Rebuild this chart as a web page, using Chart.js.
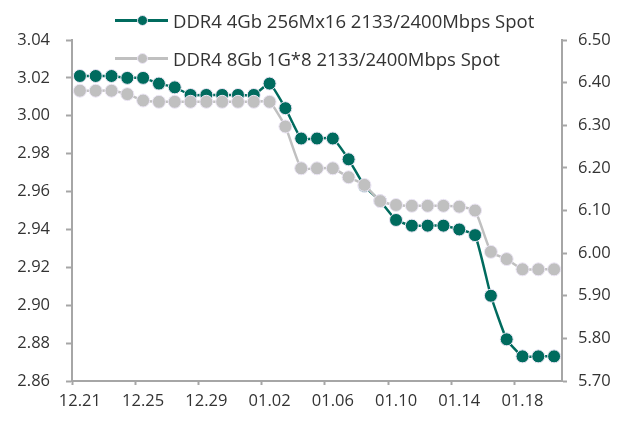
<!DOCTYPE html>
<html>
<head>
<meta charset="utf-8">
<script src="https://cdn.jsdelivr.net/npm/chart.js@4.4.1/dist/chart.umd.min.js"></script>
<style>
  body { margin: 0; background: #fff; }
  .wrap { position: relative; width: 627px; height: 422px; }
  .legend { position: absolute; left: 115px; top: 0; font-family: "Open Sans", sans-serif; font-size: 18.5px; color: #333; }
  .legend-item { position: absolute; left: 0; height: 20px; white-space: nowrap; display: flex; align-items: center; }
  .legend-mark { position: relative; width: 53px; height: 20px; margin-right: 5px; }
  .legend-mark .ln { position: absolute; left: 0; right: 0; top: 9px; height: 2.5px; }
  .legend-mark .dot { position: absolute; left: 22px; top: 5px; width: 9px; height: 9px; border-radius: 50%; border: 1px solid #ece6f5; }
</style>
</head>
<body>
<div class="wrap">
  <canvas id="lineChart"></canvas>
  <div class="legend" id="legend"></div>
</div>
<script>
const categories = [
  '12.21', '12.22', '12.23', '12.24', '12.25', '12.26', '12.27', '12.28', '12.29', '12.30', '12.31',
  '01.01', '01.02', '01.03', '01.04', '01.05', '01.06', '01.07', '01.08', '01.09', '01.10',
  '01.11', '01.12', '01.13', '01.14', '01.15', '01.16', '01.17', '01.18', '01.19', '01.20'
];
const ddr4_4gb = [
  3.021, 3.021, 3.021, 3.020, 3.020, 3.017, 3.015, 3.011, 3.011, 3.011, 3.011,
  3.011, 3.017, 3.004, 2.988, 2.988, 2.988, 2.977, 2.963, 2.955, 2.945,
  2.942, 2.942, 2.942, 2.940, 2.937, 2.905, 2.882, 2.873, 2.873, 2.873
];
const ddr4_8gb = [
  6.381, 6.381, 6.381, 6.373, 6.358, 6.355, 6.355, 6.355, 6.355, 6.355, 6.355,
  6.355, 6.355, 6.297, 6.199, 6.199, 6.199, 6.178, 6.160, 6.122, 6.113,
  6.111, 6.111, 6.111, 6.109, 6.100, 6.003, 5.986, 5.962, 5.962, 5.962
];
const seriesNames = [
  'DDR4 4Gb 256Mx16 2133/2400Mbps Spot',
  'DDR4 8Gb 1G*8 2133/2400Mbps Spot'
];
const leftTicks = [2.86, 3.04, 0.02];
const rightTicks = [5.70, 6.50, 0.10];

const green = '#006b5e';
const grey = '#c0c0c0';
const axisGrey = '#a6a6a6';
const tickFont = { family: 'Open Sans', size: 16.5 };

function buildLegend() {
  const legend = document.getElementById('legend');
  const colors = [green, grey];
  const tops = [10, 48];
  seriesNames.forEach(function (name, i) {
    const item = document.createElement('div');
    item.className = 'legend-item';
    item.style.top = tops[i] + 'px';
    item.innerHTML = '<span class="legend-mark"><span class="ln" style="background:' + colors[i] + '"></span>' +
      '<span class="dot" style="background:' + colors[i] + '"></span></span><span>' + name + '</span>';
    legend.appendChild(item);
  });
}

function generateLineChart() {
  var ctx = document.getElementById('lineChart').getContext('2d');
  var myChart = new Chart(ctx, {
    type: 'line',
    data: {
      labels: categories,
      datasets: [{
        label: seriesNames[0],
        data: ddr4_4gb,
        yAxisID: 'y',
        borderColor: green,
        backgroundColor: green,
        pointBackgroundColor: green,
        pointBorderColor: '#ece6f5',
        pointBorderWidth: 1,
        pointRadius: 6.5,
        borderWidth: 2.5,
        tension: 0.15,
        order: 1
      }, {
        label: seriesNames[1],
        data: ddr4_8gb,
        yAxisID: 'y1',
        borderColor: grey,
        backgroundColor: grey,
        pointBackgroundColor: grey,
        pointBorderColor: '#ece6f5',
        pointBorderWidth: 1,
        pointRadius: 6.5,
        borderWidth: 2.5,
        tension: 0.15,
        order: 0
      }]
    },
    options: {
      responsive: true,
      maintainAspectRatio: false,
      animation: false,
      layout: { padding: { top: 40, left: 0, right: 0, bottom: 0 } },
      plugins: {
        legend: { display: false },
        tooltip: { enabled: false }
      },
      scales: {
        x: {
          offset: true,
          afterFit: function (scale) { scale.height = 41; },
          border: { color: axisGrey, width: 2 },
          grid: {
            offset: true,
            drawOnChartArea: false,
            tickLength: 4,
            tickWidth: 2,
            tickColor: function (c) { return c.index % 4 === 0 ? axisGrey : 'rgba(0,0,0,0)'; }
          },
          ticks: {
            autoSkip: false,
            maxRotation: 0,
            padding: 6,
            color: '#333',
            font: tickFont,
            callback: function (val, i) { return i % 4 === 0 ? categories[i] : ''; }
          }
        },
        y: {
          position: 'left',
          min: leftTicks[0],
          max: leftTicks[1],
          afterFit: function (scale) { scale.width = 72; },
          border: { color: axisGrey, width: 2 },
          grid: { drawOnChartArea: false, tickLength: 6, tickWidth: 2, tickColor: axisGrey },
          ticks: {
            stepSize: leftTicks[2],
            padding: 16,
            color: '#333',
            font: tickFont,
            callback: function (v) { return v.toFixed(2); }
          }
        },
        y1: {
          position: 'right',
          min: rightTicks[0],
          max: rightTicks[1],
          afterFit: function (scale) { scale.width = 65; },
          border: { color: axisGrey, width: 2 },
          grid: { drawOnChartArea: false, tickLength: 5, tickWidth: 2, tickColor: axisGrey },
          ticks: {
            stepSize: rightTicks[2],
            padding: 11,
            color: '#333',
            font: tickFont,
            callback: function (v) { return v.toFixed(2); }
          }
        }
      }
    }
  });
}

buildLegend();
generateLineChart();
</script>
</body>
</html>
